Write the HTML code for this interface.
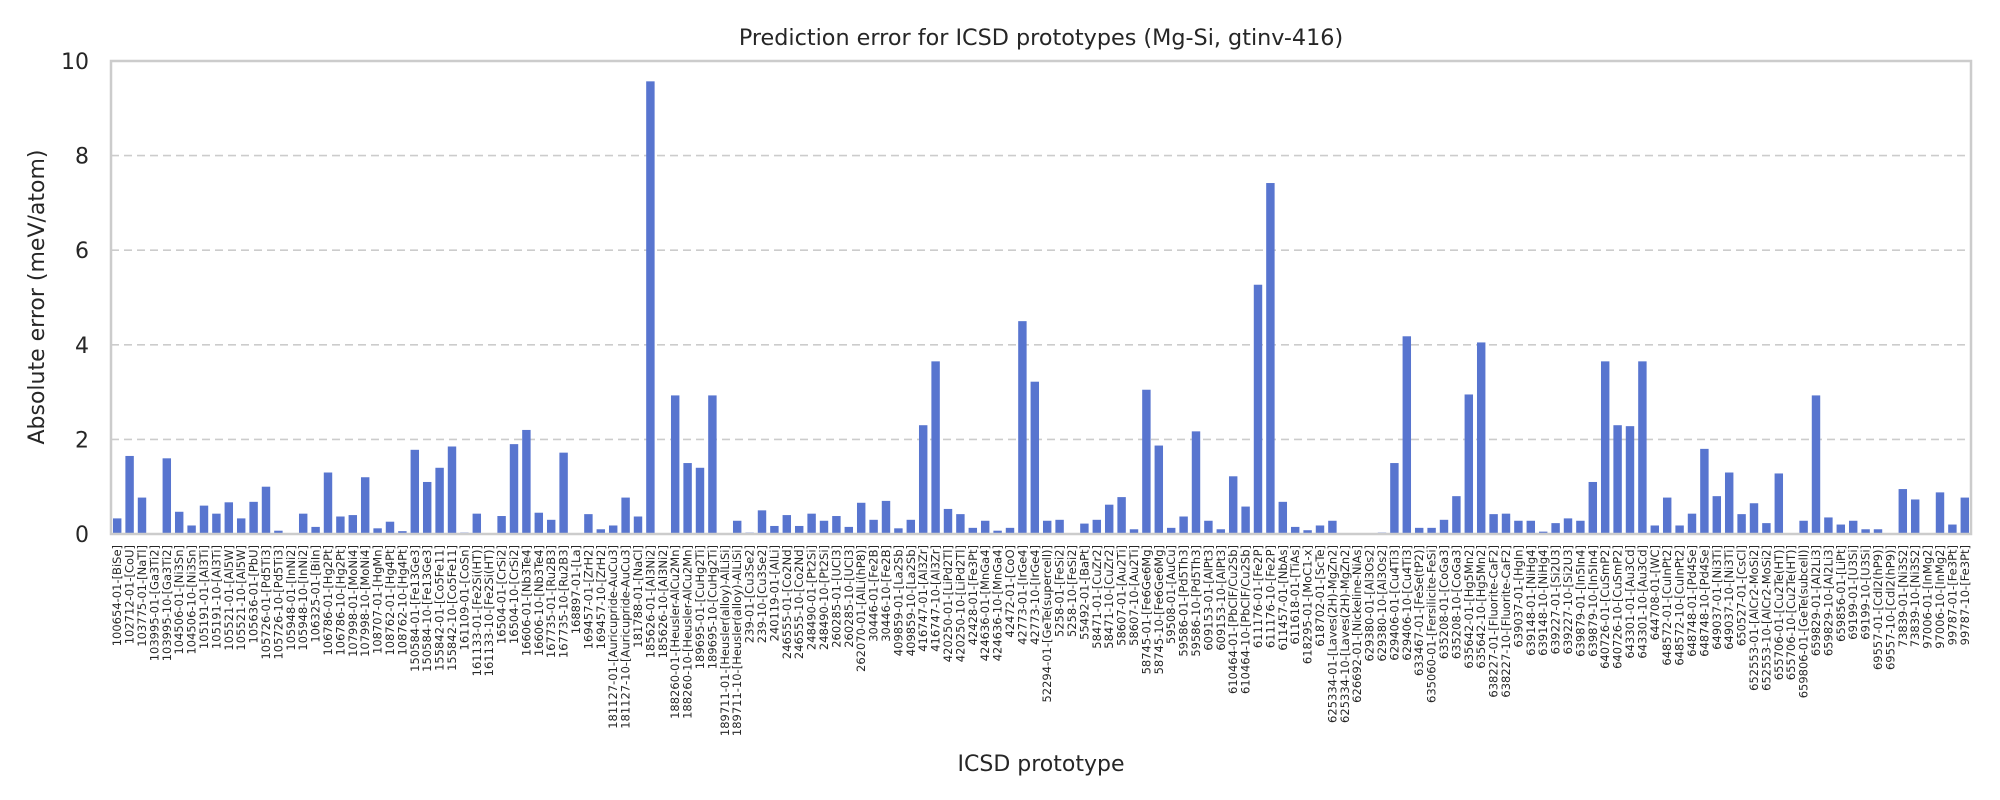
<!DOCTYPE html>
<html><head><meta charset="utf-8"><style>
html,body{margin:0;padding:0;background:#fff;}
svg{display:block;font-family:"DejaVu Sans","Liberation Sans",sans-serif;}
</style></head><body>
<svg id="chart" width="2000" height="800" viewBox="0 0 2000 800" xmlns="http://www.w3.org/2000/svg">
<rect width="2000" height="800" fill="#fff"/>
<text x="1041" y="45" text-anchor="middle" font-size="22.3" fill="#262626">Prediction error for ICSD prototypes (Mg-Si, gtinv-416)</text>
<g id="grid"></g>
<g id="bars"></g>
<g id="yticks"></g>
<g id="xticks"></g>
<rect x="111" y="61" width="1860" height="473" fill="none" stroke="#cccccc" stroke-width="2.5"/>
<text transform="translate(44,297) rotate(-90)" text-anchor="middle" font-size="22" fill="#262626">Absolute error (meV/atom)</text>
<text x="1041" y="771" text-anchor="middle" font-size="22" fill="#262626">ICSD prototype</text>
</svg>
<script>
const categories = ["100654-01-[BiSe]","102712-01-[CoU]","103775-01-[NaTl]","103995-01-[Ga3Ti2]","103995-10-[Ga3Ti2]","104506-01-[Ni3Sn]","104506-10-[Ni3Sn]","105191-01-[Al3Ti]","105191-10-[Al3Ti]","105521-01-[Al5W]","105521-10-[Al5W]","105636-01-[PbU]","105726-01-[Pd5Ti3]","105726-10-[Pd5Ti3]","105948-01-[InNi2]","105948-10-[InNi2]","106325-01-[BiIn]","106786-01-[Hg2Pt]","106786-10-[Hg2Pt]","107998-01-[MoNi4]","107998-10-[MoNi4]","108707-01-[HgMn]","108762-01-[Hg4Pt]","108762-10-[Hg4Pt]","150584-01-[Fe13Ge3]","150584-10-[Fe13Ge3]","155842-01-[Co5Fe11]","155842-10-[Co5Fe11]","161109-01-[CoSn]","161133-01-[Fe2Si(HT)]","161133-10-[Fe2Si(HT)]","16504-01-[CrSi2]","16504-10-[CrSi2]","16606-01-[Nb3Te4]","16606-10-[Nb3Te4]","167735-01-[Ru2B3]","167735-10-[Ru2B3]","168897-01-[La]","169457-01-[ZrH2]","169457-10-[ZrH2]","181127-01-[Auricupride-AuCu3]","181127-10-[Auricupride-AuCu3]","181788-01-[NaCl]","185626-01-[Al3Ni2]","185626-10-[Al3Ni2]","188260-01-[Heusler-AlCu2Mn]","188260-10-[Heusler-AlCu2Mn]","189695-01-[CuHg2Ti]","189695-10-[CuHg2Ti]","189711-01-[Heusler(alloy)-AlLiSi]","189711-10-[Heusler(alloy)-AlLiSi]","239-01-[Cu3Se2]","239-10-[Cu3Se2]","240119-01-[AlLi]","246555-01-[Co2Nd]","246555-10-[Co2Nd]","248490-01-[Pt2Si]","248490-10-[Pt2Si]","260285-01-[UCl3]","260285-10-[UCl3]","262070-01-[AlLi(hP8)]","30446-01-[Fe2B]","30446-10-[Fe2B]","409859-01-[La2Sb]","409859-10-[La2Sb]","416747-01-[Al3Zr]","416747-10-[Al3Zr]","420250-01-[LiPd2Tl]","420250-10-[LiPd2Tl]","42428-01-[Fe3Pt]","424636-01-[MnGa4]","424636-10-[MnGa4]","42472-01-[CoO]","42773-01-[IrGe4]","42773-10-[IrGe4]","52294-01-[GeTe(supercell)]","5258-01-[FeSi2]","5258-10-[FeSi2]","55492-01-[BaPt]","58471-01-[CuZr2]","58471-10-[CuZr2]","58607-01-[Au2Ti]","58607-10-[Au2Ti]","58745-01-[Fe6Ge6Mg]","58745-10-[Fe6Ge6Mg]","59508-01-[AuCu]","59586-01-[Pd5Th3]","59586-10-[Pd5Th3]","609153-01-[AlPt3]","609153-10-[AlPt3]","610464-01-[PbClF/Cu2Sb]","610464-10-[PbClF/Cu2Sb]","611176-01-[Fe2P]","611176-10-[Fe2P]","611457-01-[NbAs]","611618-01-[TiAs]","618295-01-[MoC1-x]","618702-01-[ScTe]","625334-01-[Laves(2H)-MgZn2]","625334-10-[Laves(2H)-MgZn2]","626692-01-[Nickeline-NiAs]","629380-01-[Al3Os2]","629380-10-[Al3Os2]","629406-01-[Cu4Ti3]","629406-10-[Cu4Ti3]","633467-01-[FeSe(tP2)]","635060-01-[Fersilicite-FeSi]","635208-01-[CoGa3]","635208-10-[CoGa3]","635642-01-[Hg5Mn2]","635642-10-[Hg5Mn2]","638227-01-[Fluorite-CaF2]","638227-10-[Fluorite-CaF2]","639037-01-[HgIn]","639148-01-[NiHg4]","639148-10-[NiHg4]","639227-01-[Si2U3]","639227-10-[Si2U3]","639879-01-[In5In4]","639879-10-[In5In4]","640726-01-[CuSmP2]","640726-10-[CuSmP2]","643301-01-[Au3Cd]","643301-10-[Au3Cd]","644708-01-[WC]","648572-01-[CuInPt2]","648572-10-[CuInPt2]","648748-01-[Pd4Se]","648748-10-[Pd4Se]","649037-01-[Ni3Ti]","649037-10-[Ni3Ti]","650527-01-[CsCl]","652553-01-[AlCr2-MoSi2]","652553-10-[AlCr2-MoSi2]","655706-01-[Cu2Te(HT)]","655706-10-[Cu2Te(HT)]","659806-01-[GeTe(subcell)]","659829-01-[Al2Li3]","659829-10-[Al2Li3]","659856-01-[LiPt]","69199-01-[U3Si]","69199-10-[U3Si]","69557-01-[CdI2(hP9)]","69557-10-[CdI2(hP9)]","73839-01-[Ni3S2]","73839-10-[Ni3S2]","97006-01-[InMg2]","97006-10-[InMg2]","99787-01-[Fe3Pt]","99787-10-[Fe3Pt]"];
const errors = [0.33,1.65,0.77,0,1.6,0.47,0.18,0.6,0.43,0.67,0.33,0.68,1.0,0.07,0,0.43,0.15,1.3,0.37,
0.4,1.2,0.12,0.26,0.06,1.78,1.1,1.4,1.85,0.03,0.43,0,0.38,1.9,2.2,0.45,0.3,1.72,0,
0.42,0.1,0.18,0.77,0.37,9.57,0,2.93,1.5,1.4,2.93,0,0.28,0.03,0.5,0.17,0.4,0.17,0.43,
0.28,0.38,0.15,0.66,0.3,0.7,0.12,0.3,2.3,3.65,0.53,0.42,0.13,0.28,0.07,0.13,4.5,3.22,0.28,
0.3,0,0.22,0.3,0.62,0.78,0.1,3.05,1.87,0.13,0.37,2.17,0.28,0.1,1.22,0.58,5.27,7.42,0.68,
0.15,0.08,0.18,0.28,0,0,0,0.03,1.5,4.18,0.13,0.13,0.3,0.8,2.95,4.05,0.42,0.43,0.28,
0.28,0.05,0.23,0.33,0.28,1.1,3.65,2.3,2.28,3.65,0.18,0.77,0.18,0.43,1.8,0.8,1.3,0.42,
0.65,0.23,1.28,0,0.28,2.93,0.35,0.2,0.28,0.1,0.1,0,0.95,0.73,0,0.88,0.2,0.77];
const yTicks = [0,2,4,6,8,10];

const NS = "http://www.w3.org/2000/svg";
const L = 111, R = 1971, T = 61, B = 534, YMAX = 10;
const band = (R - L) / categories.length;
function xScale(i){ return L + band * (i + 0.5); }
function yScale(v){ return B - (v / YMAX) * (B - T); }
function mk(tag, attrs){ const e = document.createElementNS(NS, tag); for (const k in attrs) e.setAttribute(k, attrs[k]); return e; }

const grid = document.getElementById('grid');
const yt = document.getElementById('yticks');
yTicks.forEach(v => {
  const y = yScale(v);
  if (v > 0 && v < YMAX) {
    const g = mk('line', {x1: L, x2: R, y1: y, y2: y, stroke: '#cccccc', 'stroke-width': 1.6, 'stroke-dasharray': '8,5'});
    
    
    grid.appendChild(g);
  }
  const t = mk('text', {x: 89, y: y + 8, 'text-anchor': 'end', 'font-size': 22, fill: '#262626'});
  t.textContent = v;
  
  
  yt.appendChild(t);
});

const bars = document.getElementById('bars');
const xt = document.getElementById('xticks');
const bw = band * 0.68;
categories.forEach((c, i) => {
  const v = errors[i];
  const y = yScale(v);
  const r = mk('rect', {x: xScale(i) - bw / 2, y: y, width: bw, height: B - y, fill: '#5875cf'});
  
  
  bars.appendChild(r);
  const x = xScale(i);
  const t = mk('text', {transform: 'translate(' + (x + 4) + ',545) rotate(-90)', 'text-anchor': 'end', 'font-size': 11.5, fill: '#262626'});
  t.textContent = c;
  
  
  xt.appendChild(t);
});
</script>
</body></html>
